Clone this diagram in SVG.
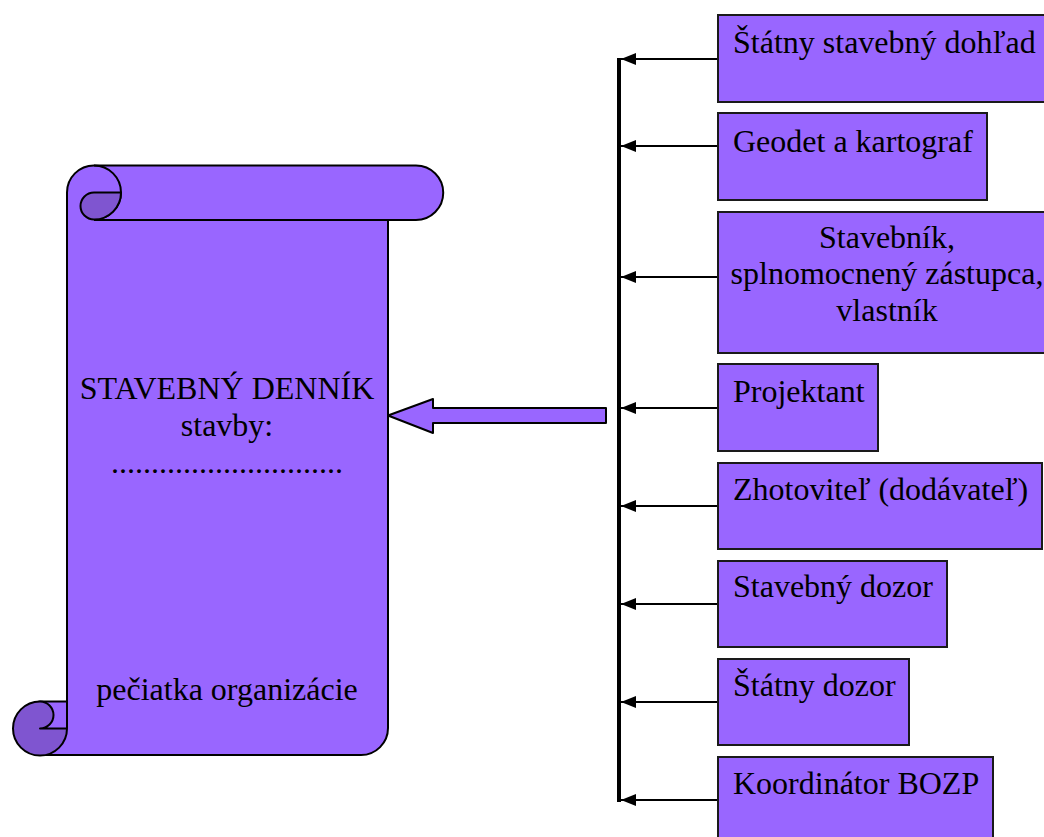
<svg xmlns="http://www.w3.org/2000/svg" width="1044" height="837" viewBox="0 0 1044 837">
<style>
.t{font-family:"Liberation Serif","Times New Roman",serif;font-size:32px;fill:#000}
.box{fill:#9966ff;stroke:#1a1a1a;stroke-width:2}
.lt{fill:#9966ff;stroke:#000;stroke-width:2;stroke-linejoin:round}
.dk{fill:#7f55d0;stroke:#000;stroke-width:2;stroke-linejoin:round}
.ln{fill:none;stroke:#000;stroke-width:2}
.bus{stroke:#000;stroke-width:4;fill:none}
.con{stroke:#000;stroke-width:2;fill:none;marker-end:url(#ah)}
</style>
<defs>
<marker id="ah" viewBox="0 0 15 12" refX="15" refY="6" markerWidth="15" markerHeight="12" markerUnits="userSpaceOnUse" orient="auto">
<path d="M0,0 L15,6 L0,12 Z" fill="#000"/>
</marker>
</defs>
<rect width="1044" height="837" fill="#fff"/>

<g id="scroll">
<path class="lt" d="M67,192.5 A27,27 0 0 1 94,165.5 L416,165.5 A27.25,27.25 0 0 1 416,220 L388,220 L388,728 A27,27 0 0 1 361,755 L40,755 A27,27 0 0 1 40,701.5 L67,701.5 Z"/>
<line class="ln" x1="94" y1="220" x2="388" y2="220"/>
<line class="ln" x1="67" y1="192.5" x2="67" y2="728.5"/>
<path class="ln" d="M94,165.5 A27,27 0 0 1 94,219.5"/>
<path class="dk" d="M121,192.5 L94,192.5 A13.5,13.5 0 0 0 94,219.5 A27,27 0 0 0 121,192.5 Z"/>
<path class="dk" d="M40,701.5 A27,27 0 0 0 40,755.5 A27,27 0 0 0 67,728.5 L40,728.5 A13.5,13.5 0 0 0 40,701.5 Z"/>
<text class="t" x="227" y="399" text-anchor="middle">STAVEBNÝ DENNÍK</text>
<text class="t" x="227" y="436" text-anchor="middle">stavby:</text>
<text class="t" x="227" y="473" text-anchor="middle">.............................</text>
<text class="t" x="227" y="700" text-anchor="middle">pečiatka organizácie</text>
</g>

<g id="bigarrow">
<path class="lt" d="M606,408 L433,408 L433,399 L388,415.5 L433,433 L433,423 L606,423 Z" stroke-linejoin="miter"/>
</g>

<g id="connectors">
<line class="bus" x1="619" y1="58" x2="619" y2="802"/>
<line class="con" x1="717" y1="59" x2="621" y2="59"/>
<line class="con" x1="717" y1="146" x2="621" y2="146"/>
<line class="con" x1="717" y1="277" x2="621" y2="277"/>
<line class="con" x1="717" y1="408" x2="621" y2="408"/>
<line class="con" x1="717" y1="506" x2="621" y2="506"/>
<line class="con" x1="717" y1="604" x2="621" y2="604"/>
<line class="con" x1="717" y1="702" x2="621" y2="702"/>
<line class="con" x1="717" y1="800" x2="621" y2="800"/>
</g>

<g id="n1"><rect class="box" x="718" y="15" width="360" height="87"/><text class="t" x="733" y="53">Štátny stavebný dohľad</text></g>
<g id="n2"><rect class="box" x="718" y="113" width="269" height="87"/><text class="t" x="733" y="152">Geodet a kartograf</text></g>
<g id="n3"><rect class="box" x="718" y="212" width="360" height="141"/>
<text class="t" x="887" y="248" text-anchor="middle">Stavebník,</text>
<text class="t" x="887" y="284" text-anchor="middle">splnomocnený zástupca,</text>
<text class="t" x="887" y="321" text-anchor="middle">vlastník</text></g>
<g id="n4"><rect class="box" x="718" y="364" width="160" height="87"/><text class="t" x="733" y="402">Projektant</text></g>
<g id="n5"><rect class="box" x="718" y="463" width="324" height="86"/><text class="t" x="733" y="500">Zhotoviteľ (dodávateľ)</text></g>
<g id="n6"><rect class="box" x="718" y="561" width="229" height="86"/><text class="t" x="733" y="597">Stavebný dozor</text></g>
<g id="n7"><rect class="box" x="718" y="659" width="191" height="86"/><text class="t" x="733" y="696">Štátny dozor</text></g>
<g id="n8"><rect class="box" x="718" y="757" width="275" height="100"/><text class="t" x="733" y="794">Koordinátor BOZP</text></g>
</svg>
